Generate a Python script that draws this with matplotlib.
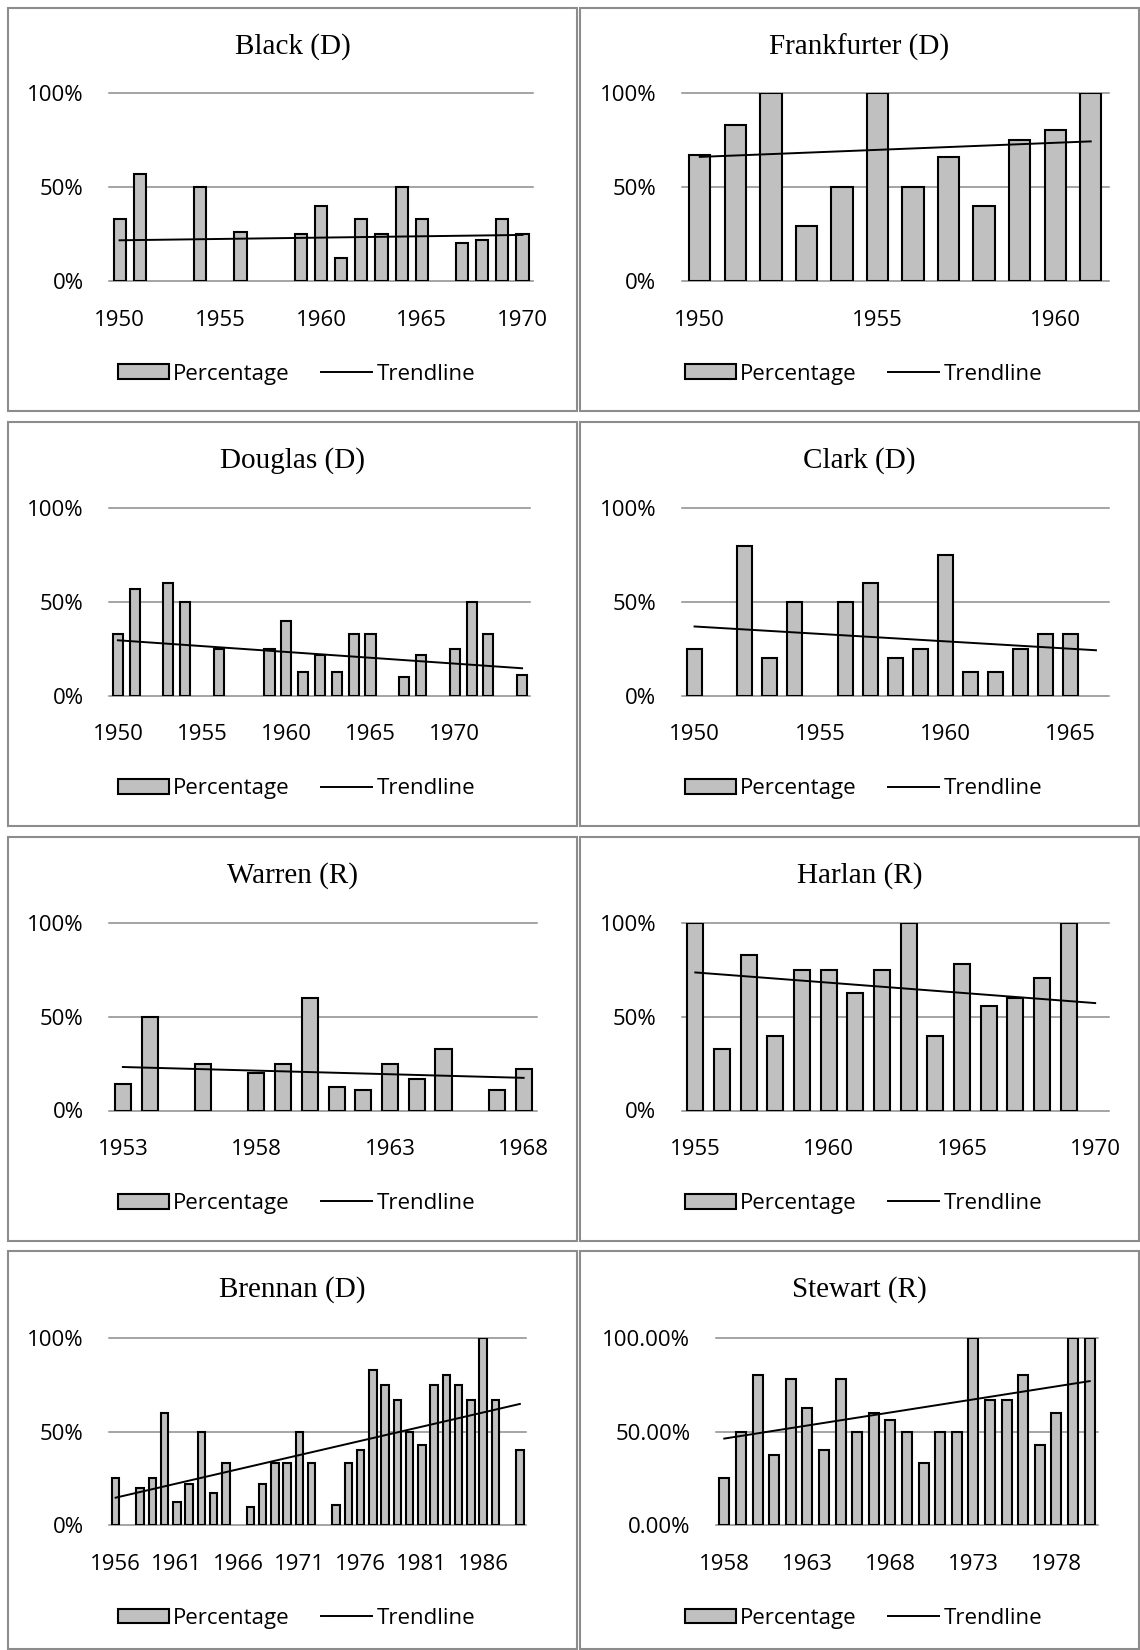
import numpy as np
import matplotlib
matplotlib.use("Agg")
import matplotlib.pyplot as plt
from matplotlib.patches import Rectangle
from matplotlib.ticker import PercentFormatter

plt.rcParams['font.family'] = ['Open Sans', 'DejaVu Sans']

# Share of votes per term, one value per year (0 = no bar that year)
black_start = 1950
black_pct = [0.33, 0.57, 0, 0, 0.50, 0, 0.26, 0, 0, 0.25, 0.40, 0.125, 0.33,
             0.25, 0.50, 0.33, 0, 0.20, 0.22, 0.33, 0.25]

frankfurter_start = 1950
frankfurter_pct = [0.67, 0.83, 1.00, 0.29, 0.50, 1.00, 0.50, 0.66, 0.40, 0.75,
                   0.80, 1.00]

douglas_start = 1950
douglas_pct = [0.33, 0.57, 0, 0.60, 0.50, 0, 0.25, 0, 0, 0.25, 0.40, 0.125,
               0.22, 0.125, 0.33, 0.33, 0, 0.10, 0.22, 0, 0.25, 0.50, 0.33, 0,
               0.11]

clark_start = 1950
clark_pct = [0.25, 0, 0.80, 0.20, 0.50, 0, 0.50, 0.60, 0.20, 0.25, 0.75, 0.125,
             0.125, 0.25, 0.33, 0.33, 0]

warren_start = 1953
warren_pct = [0.14, 0.50, 0, 0.25, 0, 0.20, 0.25, 0.60, 0.125, 0.11, 0.25,
              0.167, 0.33, 0, 0.11, 0.22]

harlan_start = 1955
harlan_pct = [1.00, 0.33, 0.83, 0.40, 0.75, 0.75, 0.625, 0.75, 1.00, 0.40,
              0.78, 0.56, 0.60, 0.71, 1.00, 0]

brennan_start = 1956
brennan_pct = [0.25, 0, 0.20, 0.25, 0.60, 0.125, 0.22, 0.50, 0.17, 0.33, 0,
               0.10, 0.22, 0.33, 0.33, 0.50, 0.33, 0, 0.11, 0.33, 0.40, 0.83,
               0.75, 0.67, 0.50, 0.43, 0.75, 0.80, 0.75, 0.67, 1.00, 0.67, 0,
               0.40]

stewart_start = 1958
stewart_pct = [0.25, 0.50, 0.80, 0.375, 0.78, 0.625, 0.40, 0.78, 0.50, 0.60,
               0.56, 0.50, 0.33, 0.50, 0.50, 1.00, 0.67, 0.67, 0.80, 0.43, 0.60,
               1.00, 1.00]

panels = [
    ("Black (D)", black_start, black_pct, 0),
    ("Frankfurter (D)", frankfurter_start, frankfurter_pct, 0),
    ("Douglas (D)", douglas_start, douglas_pct, 0),
    ("Clark (D)", clark_start, clark_pct, 0),
    ("Warren (R)", warren_start, warren_pct, 0),
    ("Harlan (R)", harlan_start, harlan_pct, 0),
    ("Brennan (D)", brennan_start, brennan_pct, 0),
    ("Stewart (R)", stewart_start, stewart_pct, 2),
]

W, H = 1140, 1650
fig = plt.figure(figsize=(W / 100, H / 100), dpi=100)

# layout in pixels
col_x = [(8, 577), (580, 1139)]
row_y = [(8, 411), (422, 826), (837, 1241), (1251, 1649)]
plot_x = [(109.5, 532.6), (682, 1108.5), (109.5, 530.5), (682, 1108.5),
          (109.5, 537), (682, 1108.5), (109.5, 526), (716, 1098)]
y_full = [92.6, 508.4, 923.2, 1337.9]
y_zero = [281.1, 695.8, 1110.5, 1525.3]

grid_col = '#8c8c8c'
bar_col = '#c0c0c0'

for i, (title, start, pct, dec) in enumerate(panels):
    r, c = divmod(i, 2)
    x0, x1 = col_x[c]
    t0, t1 = row_y[r]
    fig.patches.append(Rectangle((x0 / W, 1 - t1 / H), (x1 - x0) / W, (t1 - t0) / H,
                                 transform=fig.transFigure, fill=False,
                                 edgecolor=grid_col, lw=1.5))
    cx = (x0 + x1) / 2
    fig.text(cx / W, 1 - (t0 + 39) / H, title, ha='center', va='center',
             fontsize=21, family='Liberation Serif')

    px0, px1 = plot_x[i]
    ax = fig.add_axes([px0 / W, 1 - y_zero[r] / H, (px1 - px0) / W,
                       (y_zero[r] - y_full[r]) / H])
    vals = np.array(pct, dtype=float)
    n = len(vals)
    x = np.arange(n)
    years = np.arange(start, start + n)
    has = vals > 0
    bars = ax.bar(x[has], vals[has], width=0.6, color=bar_col,
                  edgecolor='black', lw=1.5, zorder=2, label='Percentage')
    coef = np.polyfit(x, vals, 1)
    ends = x[[0, -1]]
    trend, = ax.plot(ends, np.polyval(coef, ends), color='black', lw=1.4,
                     zorder=3, label='Trendline')

    ax.set_xlim(-0.5, n - 0.5)
    ax.set_ylim(0, 1)
    ax.set_yticks([0, 0.5, 1])
    ax.yaxis.set_major_formatter(PercentFormatter(1.0, decimals=dec))
    ax.set_xticks(x[::5])
    ax.set_xticklabels([str(y) for y in years[::5]])
    for s in ax.spines.values():
        s.set_visible(False)
    ax.tick_params(axis='both', length=0, labelsize=16, colors='black')
    ax.tick_params(axis='x', pad=20.5)
    ax.tick_params(axis='y', pad=18.5)
    ax.set_axisbelow(True)
    ax.yaxis.grid(True, color=grid_col, lw=1.1)
    for gl in ax.get_ygridlines():
        gl.set_clip_on(False)

    ax.legend([bars, trend], ['Percentage', 'Trendline'], loc='center',
              bbox_to_anchor=((cx + 4) / W, 1 - (y_zero[r] + 93) / H),
              bbox_transform=fig.transFigure, ncol=2, frameon=False,
              fontsize=16, handlelength=2.3, handleheight=0.65,
              handletextpad=0.2, columnspacing=1.4, borderaxespad=0)

fig.savefig("out.png", dpi=100)
